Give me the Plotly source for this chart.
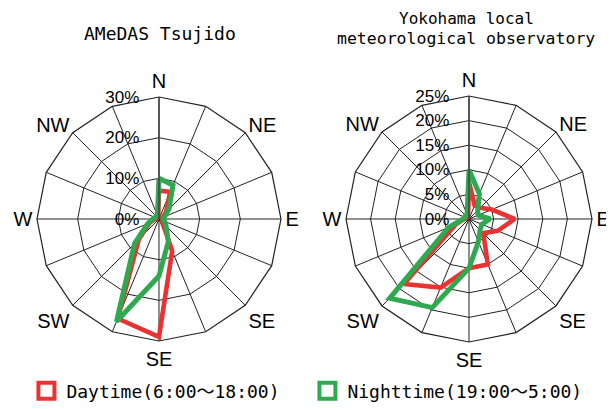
import plotly.graph_objects as go

directions = ["N", "NNE", "NE", "ENE", "E", "ESE", "SE", "SSE",
              "S", "SSW", "SW", "WSW", "W", "WNW", "NW", "NNW"]
direction_labels = ["N", "", "NE", "", "E", "", "SE", "",
                    "SE", "", "SW", "", "W", "", "NW", ""]

# Percent frequency of wind direction (16 points)
tsujido_day = [7.0, 7.2, 2.5, 1.0, 1.0, 1.0, 1.2, 8.5, 29.0, 26.5, 7.0, 2.5, 1.0, 0.5, 0.5, 0.5]
tsujido_night = [10.0, 9.0, 3.5, 1.5, 1.0, 1.5, 2.5, 6.0, 14.0, 27.3, 8.5, 3.0, 1.5, 1.0, 1.0, 1.0]
yokohama_day = [7.5, 3.0, 3.2, 5.0, 9.3, 6.3, 4.1, 10.0, 10.0, 15.1, 18.7, 3.0, 1.0, 0.5, 0.5, 0.5]
yokohama_night = [10.0, 5.5, 2.5, 2.0, 4.3, 2.8, 3.2, 5.0, 10.0, 19.5, 22.8, 4.5, 1.2, 1.0, 1.0, 1.0]

title_left = "AMeDAS Tsujido"
title_right_lines = ["Yokohama local", "meteorological observatory"]
series_names = ["Daytime(6:00～18:00)", "Nighttime(19:00～5:00)"]
radial_max = [30, 25]
radial_step = [10, 5]

RED = "#EB3232"
GREEN = "#2EA94F"
colors = [RED, GREEN]
widths = [4.6, 5.0]

TEXT_FONT = "DejaVu Sans Mono, Noto Sans CJK JP"
AXIS_FONT = "Liberation Sans, Arial"


def closed(vals):
    return list(vals) + [vals[0]]


fig = go.Figure()
datasets = [(tsujido_day, tsujido_night), (yokohama_day, yokohama_night)]
for i, (day, night) in enumerate(datasets):
    sub = "polar" if i == 0 else "polar2"
    for j, vals in enumerate((day, night)):
        fig.add_trace(go.Scatterpolar(
            r=closed(vals), theta=closed(directions), mode="lines",
            line=dict(color=colors[j], width=widths[j]),
            subplot=sub, showlegend=False, hoverinfo="skip",
        ))

# legend entries (open squares)
for j, name in enumerate(series_names):
    fig.add_trace(go.Scatterpolar(
        r=[None], theta=[directions[0]], mode="markers", name=name,
        marker=dict(symbol="square-open", size=16, color=colors[j],
                    line=dict(width=4, color=colors[j])),
        subplot="polar",
    ))


def polar_layout(domx, domy, rmax, step):
    return dict(
        domain=dict(x=domx, y=domy),
        bgcolor="white",
        gridshape="linear",
        angularaxis=dict(
            direction="clockwise", rotation=90, type="category",
            categoryarray=directions,
            tickmode="array", tickvals=directions, ticktext=direction_labels,
            showgrid=True, gridcolor="#222", gridwidth=1,
            showline=True, linecolor="#222", linewidth=1.2,
            ticks="", tickfont=dict(family=AXIS_FONT, size=20, color="black"),
        ),
        radialaxis=dict(
            range=[0, rmax], dtick=step, tick0=0, angle=90,
            side="counterclockwise", tickangle=90,
            ticksuffix="%", showgrid=True, gridcolor="#222", gridwidth=1,
            showline=True, linecolor="#444", linewidth=1.5,
            ticks="outside", ticklen=13, tickcolor="rgba(0,0,0,0)",
            tickfont=dict(family=AXIS_FONT, size=17, color="black"),
        ),
    )


fig.update_layout(
    width=614, height=410,
    margin=dict(l=0, r=0, t=0, b=0),
    paper_bgcolor="white", plot_bgcolor="white",
    polar=polar_layout([0.0472, 0.4446], [0.1878, 0.7829], radial_max[0], radial_step[0]),
    polar2=polar_layout([0.5505, 0.9511], [0.1854, 0.7854], radial_max[1], radial_step[1]),
    showlegend=True,
    legend=dict(
        orientation="h", x=0.03, y=0.066, xanchor="left", yanchor="middle",
        font=dict(family=TEXT_FONT, size=18, color="black"),
        itemsizing="trace", bgcolor="rgba(0,0,0,0)",
        entrywidth=236, entrywidthmode="pixels",
    ),
    annotations=[
        dict(text=title_left, x=0.2476, y=0.939, xref="paper", yref="paper",
             showarrow=False, xanchor="center", yanchor="middle",
             font=dict(family=TEXT_FONT, size=18, color="black")),
        dict(text=title_right_lines[0], x=0.746, y=0.974, xref="paper", yref="paper",
             showarrow=False, xanchor="center", yanchor="middle", borderpad=0,
             font=dict(family=TEXT_FONT, size=16, color="black")),
        dict(text=title_right_lines[1], x=0.746, y=0.925, xref="paper", yref="paper",
             showarrow=False, xanchor="center", yanchor="middle", borderpad=0,
             font=dict(family=TEXT_FONT, size=16.5, color="black")),
    ],
)

fig.write_html("out.html")
